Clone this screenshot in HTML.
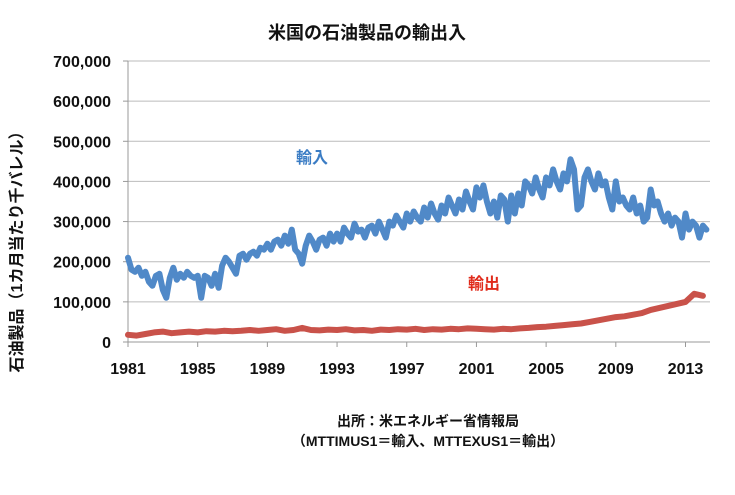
<!DOCTYPE html>
<html><head><meta charset="utf-8">
<style>
body{margin:0;background:#fff;}
svg{display:block;font-family:"Liberation Sans","Noto Sans CJK JP",sans-serif;}
</style></head>
<body>
<svg id="chart" width="735" height="495" viewBox="0 0 735 495">
<text x="367" y="39" text-anchor="middle" font-size="18" font-weight="bold" fill="#111">米国の石油製品の輸出入</text>
<g id="grid"></g>
<g id="yticks"></g>
<g id="xticks"></g>
<g id="series"></g>
<text transform="translate(22,248) rotate(-90)" text-anchor="middle" font-size="16" font-weight="bold" fill="#111">石油製品（1カ月当たり千バレル）</text>
<text x="312" y="163" text-anchor="middle" font-size="16" font-weight="bold" fill="#3a7cc4">輸入</text>
<text x="484" y="289" text-anchor="middle" font-size="16" font-weight="bold" fill="#e02a1a">輸出</text>
<text x="428" y="426" text-anchor="middle" font-size="14" font-weight="bold" fill="#111">出所：米エネルギー省情報局</text>
<text x="428" y="446" text-anchor="middle" font-size="14" font-weight="bold" fill="#111">（MTTIMUS1＝輸入、MTTEXUS1＝輸出）</text>
</svg>
<script>
const yTicks=[0,100000,200000,300000,400000,500000,600000,700000];
const yTickLabels=["0","100,000","200,000","300,000","400,000","500,000","600,000","700,000"];
const xTicks=[1981,1985,1989,1993,1997,2001,2005,2009,2013];
const xTickLabels=["1981","1985","1989","1993","1997","2001","2005","2009","2013"];
const importStart=1981, importStep=0.2;
const imports=[210,180,175,185,165,175,150,140,165,170,130,110,160,185,155,170,160,175,165,160,165,110,165,160,140,170,135,190,210,200,185,170,215,220,205,220,225,215,235,230,245,230,250,255,240,265,245,280,230,220,195,240,265,250,230,255,260,240,270,250,270,250,285,270,260,295,275,280,260,285,290,270,300,280,260,300,290,315,300,285,320,300,325,310,300,335,310,345,320,305,340,320,360,340,320,355,330,375,350,330,385,360,390,350,320,350,310,365,355,300,365,320,370,340,400,390,370,410,380,360,410,390,430,400,380,420,400,455,430,330,340,410,430,400,380,420,390,400,360,330,400,350,360,340,330,360,320,340,300,310,380,340,350,320,300,320,290,310,300,260,320,280,300,290,260,290,280];
const exportStart=1981, exportStep=0.5;
const exports=[18,16,20,24,26,22,24,26,24,27,26,28,27,28,30,28,30,32,28,30,35,30,29,31,30,32,29,30,28,31,30,32,31,33,30,32,31,33,32,34,33,32,31,33,32,34,35,37,38,40,42,44,46,50,54,58,62,64,68,72,80,85,90,95,100,120,115];
const X0=128,X1=710,Y0=342,Y1=61;
const xs=y=>X0+(y-1981)*(685.5-128)/32;
const ys=v=>Y0-(v/700000)*(Y0-Y1);
const NS="http://www.w3.org/2000/svg";
function mk(tag,attrs,parent){const e=document.createElementNS(NS,tag);for(const k in attrs)e.setAttribute(k,attrs[k]);parent.appendChild(e);return e;}
const grid=document.getElementById('grid'),yt=document.getElementById('yticks'),xt=document.getElementById('xticks'),ser=document.getElementById('series');
yTicks.forEach((v,i)=>{
 const l=mk('line',{x1:X0,x2:X1,y1:ys(v),y2:ys(v),stroke:v===0?'#999':'#bbb','stroke-width':1},grid);
 
 
 mk('line',{x1:X0-5,x2:X0,y1:ys(v),y2:ys(v),stroke:'#999'},grid);
 const t=mk('text',{x:111,y:ys(v)+6,'text-anchor':'end','font-size':16,'font-weight':'bold',fill:'#111'},yt);
 t.textContent=yTickLabels[i];
 
 
});
const ax=mk('line',{x1:X0,x2:X0,y1:Y1,y2:Y0,stroke:'#999'},grid);


xTicks.forEach((yr,i)=>{
 mk('line',{x1:xs(yr),x2:xs(yr),y1:Y0,y2:Y0+5,stroke:'#999'},grid);
 const t=mk('text',{x:xs(yr),y:374,'text-anchor':'middle','font-size':16,'font-weight':'bold',fill:'#111'},xt);
 t.textContent=xTickLabels[i];
 
 
});
function path(arr,start,step,mult){return arr.map((v,i)=>(i?'L':'M')+xs(start+i*step).toFixed(1)+','+ys(v*mult).toFixed(1)).join('');}
const pe=mk('path',{d:path(exports,exportStart,exportStep,1000),fill:'none',stroke:'#c9524a','stroke-width':6,'stroke-linejoin':'round','stroke-linecap':'round'},ser);


const pi=mk('path',{d:path(imports,importStart,importStep,1000),fill:'none',stroke:'#5089c8','stroke-width':6,'stroke-linejoin':'round','stroke-linecap':'round'},ser);


</script>
</body></html>
